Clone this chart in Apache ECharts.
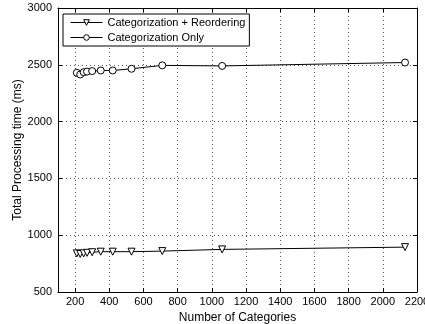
<!DOCTYPE html>
<html>
<head>
<meta charset="utf-8">
<script src="https://cdn.jsdelivr.net/npm/echarts@6/dist/echarts.min.js"></script>
<style>
html, body { margin: 0; padding: 0; background: #fff; }
#chart { width: 425px; height: 324px; }
</style>
</head>
<body>
<div id="chart"></div>
<script>
var categories = [210, 230, 250, 270, 300, 350, 420, 530, 710, 1060, 2130];
var reorderTimes = [840, 835, 840, 845, 850, 855, 855, 855, 860, 875, 895];
var categOnlyTimes = [2430, 2415, 2435, 2440, 2445, 2450, 2450, 2465, 2495, 2490, 2520];
var xTicks = [200, 400, 600, 800, 1000, 1200, 1400, 1600, 1800, 2000, 2200];

var font = 'Liberation Sans, Arial, Helvetica, sans-serif';

function pairs(xs, ys) {
    var out = [];
    for (var i = 0; i < xs.length; i++) {
        out.push([xs[i], ys[i]]);
    }
    return out;
}

// plain numbers, no thousands separator
function plain(v) {
    return String(v);
}

var myChart = echarts.init(document.getElementById('chart'), null, { renderer: 'canvas' });
myChart.setOption({
    animation: false,
    backgroundColor: '#fff',
    textStyle: { fontFamily: font },
    grid: {
        left: 58,
        right: 8,
        top: 8,
        bottom: 32,
        containLabel: false,
        outerBoundsMode: 'none'
    },
    legend: {
        orient: 'vertical',
        left: 63,
        top: 14,
        itemWidth: 32,
        itemHeight: 7,
        itemGap: 4,
        padding: [3, 4, 3, 7],
        borderColor: '#000',
        borderWidth: 1,
        backgroundColor: '#fff',
        lineStyle: { width: 1 },
        itemStyle: { borderWidth: 1 },
        textStyle: { fontFamily: font, fontSize: 11, color: '#000' },
        data: ['Categorization + Reordering', 'Categorization Only']
    },
    xAxis: [{
        type: 'value',
        min: 100,
        max: 2200,
        name: 'Number of Categories',
        nameLocation: 'middle',
        nameGap: 16,
        nameTextStyle: { fontFamily: font, fontSize: 12, color: '#000' },
        axisLine: { lineStyle: { color: '#000', width: 1 } },
        axisTick: { inside: true, length: 4, customValues: xTicks, lineStyle: { color: '#000' } },
        axisLabel: { customValues: xTicks, formatter: plain, color: '#000', fontSize: 11, margin: 4 },
        splitLine: { show: true, lineStyle: { color: '#555', type: [1, 3] } }
    }, {
        type: 'value',
        position: 'top',
        min: 100,
        max: 2200,
        axisLine: { lineStyle: { color: '#000', width: 1 } },
        axisTick: { inside: true, length: 4, customValues: xTicks, lineStyle: { color: '#000' } },
        axisLabel: { show: false },
        splitLine: { show: false }
    }],
    yAxis: [{
        type: 'value',
        min: 500,
        max: 3000,
        interval: 500,
        name: 'Total Processing time (ms)',
        nameLocation: 'middle',
        nameGap: 34,
        nameMoveOverlap: false,
        nameTextStyle: { fontFamily: font, fontSize: 12, color: '#000' },
        axisLine: { show: true, lineStyle: { color: '#000', width: 1 } },
        axisTick: { show: true, inside: true, length: 4, lineStyle: { color: '#000' } },
        axisLabel: { formatter: plain, color: '#000', fontSize: 11, margin: 6 },
        splitLine: { show: true, lineStyle: { color: '#555', type: [1, 3] } }
    }, {
        type: 'value',
        position: 'right',
        min: 500,
        max: 3000,
        interval: 500,
        axisLine: { show: true, lineStyle: { color: '#000', width: 1 } },
        axisTick: { show: true, inside: true, length: 4, lineStyle: { color: '#000' } },
        axisLabel: { show: false },
        splitLine: { show: false }
    }],
    series: [{
        name: 'Categorization + Reordering',
        type: 'line',
        symbol: 'triangle',
        symbolRotate: 180,
        symbolSize: 7,
        itemStyle: { color: '#fff', borderColor: '#000', borderWidth: 1 },
        lineStyle: { color: '#000', width: 1 },
        data: pairs(categories, reorderTimes)
    }, {
        name: 'Categorization Only',
        type: 'line',
        symbol: 'circle',
        symbolSize: 7,
        itemStyle: { color: '#fff', borderColor: '#000', borderWidth: 1 },
        lineStyle: { color: '#000', width: 1 },
        data: pairs(categories, categOnlyTimes)
    }]
});
</script>
</body>
</html>
